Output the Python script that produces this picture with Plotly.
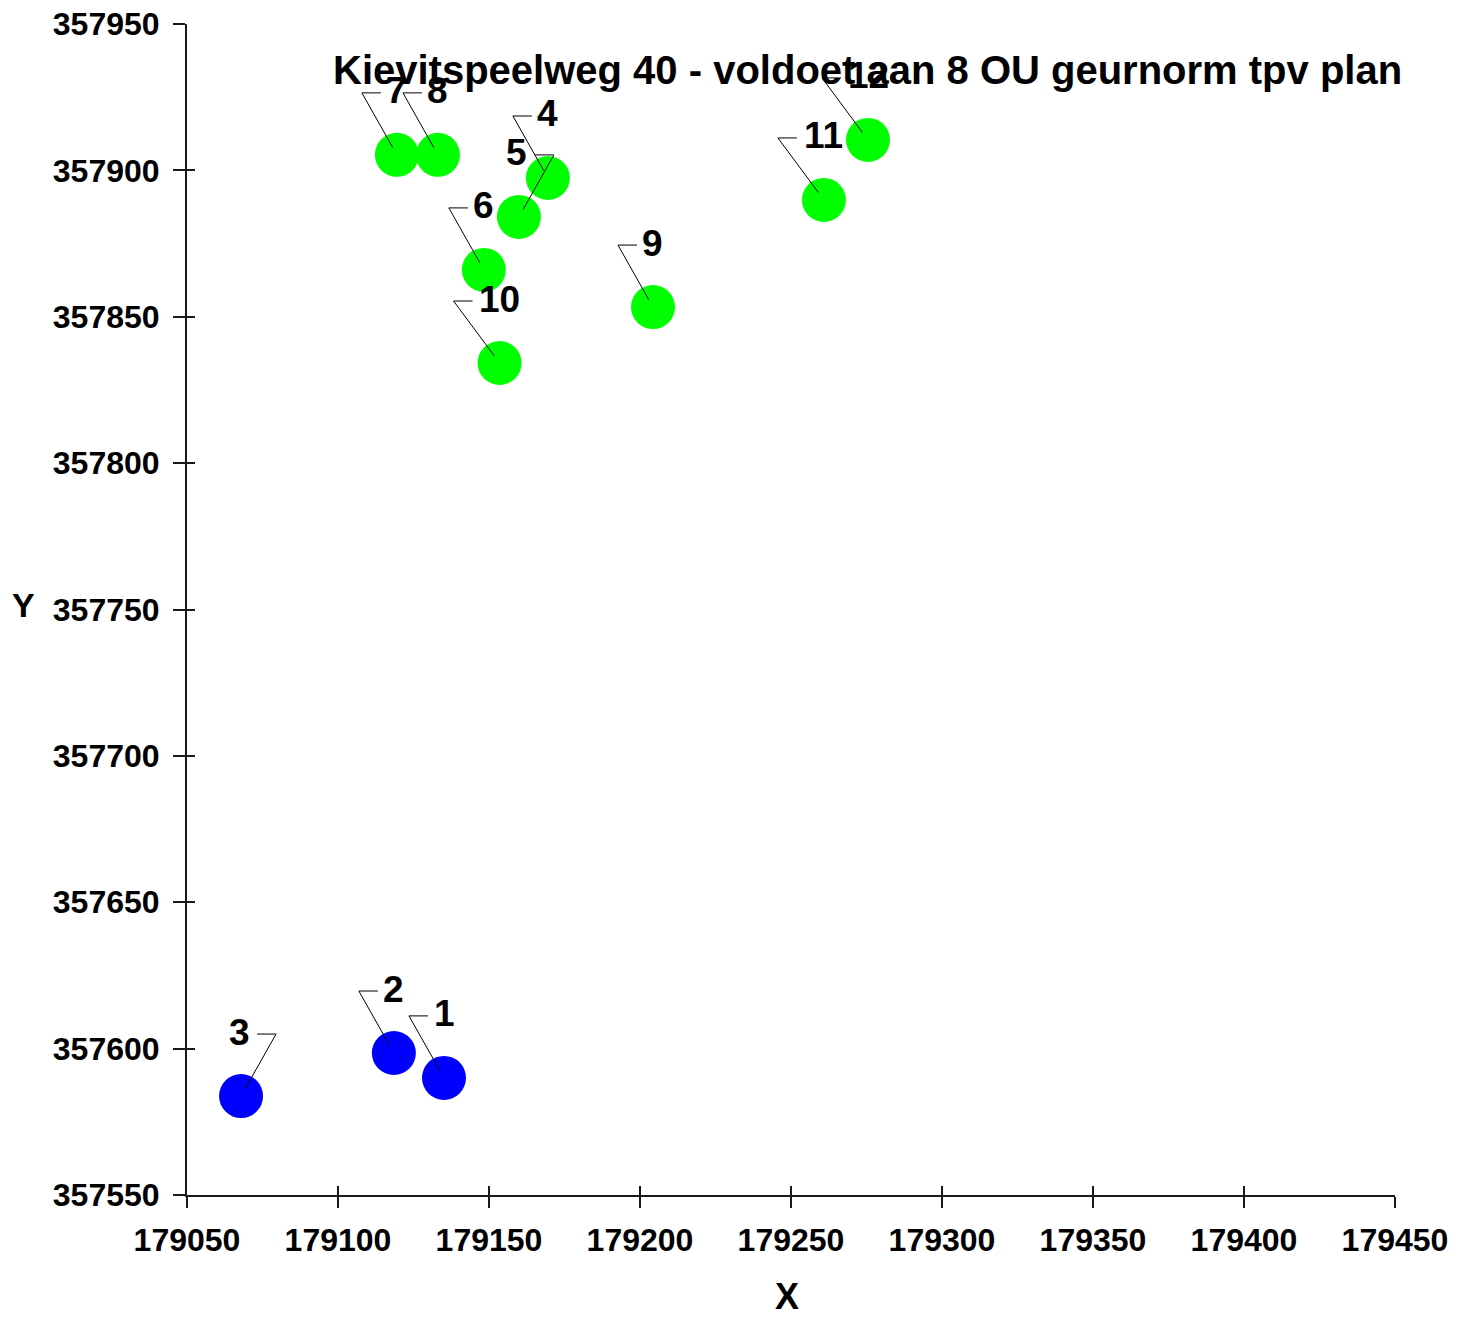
import plotly.graph_objects as go

# ---- data ----
title_text = "Kievitspeelweg 40 - voldoet aan 8 OU geurnorm tpv plan"

blue_labels = ["1", "2", "3"]
blue_x = [179135.1, 179118.5, 179067.9]
blue_y = [357590.0, 357598.5, 357583.8]

green_labels = ["4", "5", "6", "7", "8", "9", "10", "11", "12"]
green_x = [179169.5, 179159.9, 179148.3, 179119.5, 179133.1, 179204.3, 179153.5, 179260.9, 179275.5]
green_y = [357897.4, 357884.1, 357866.0, 357905.3, 357905.3, 357853.3, 357834.2, 357889.9, 357910.4]

x_range = [179050, 179450]
y_range = [357550, 357950]
tick_step = 50

# labels whose leader stub sits on the right side of the text
right_side = {"5", "3"}

FONT = "Liberation Sans, Arial, sans-serif"

# the page body has an 8px margin; size the figure so the plot area lands where wanted
BODY = 8
PLOT_L, PLOT_T, PLOT_R, PLOT_B = 187, 24, 1395, 1195
W, H = 1469 - BODY, 1321 - BODY
PW, PH = PLOT_R - PLOT_L, PLOT_B - PLOT_T


def px_x(sx):
    return (sx - PLOT_L) / PW


def px_y(sy):
    return (PLOT_B - sy) / PH


fig = go.Figure()

fig.add_trace(go.Scatter(
    x=blue_x, y=blue_y, mode="markers", name="overschrijding",
    marker=dict(size=44, color="#0000FF", line=dict(width=0)),
    cliponaxis=False, showlegend=False, hoverinfo="text", text=blue_labels,
))
fig.add_trace(go.Scatter(
    x=green_x, y=green_y, mode="markers", name="voldoet",
    marker=dict(size=44, color="#00FF00", line=dict(width=0)),
    cliponaxis=False, showlegend=False, hoverinfo="text", text=green_labels,
))
# invisible trace to activate the overlay axes (inside half of crossing ticks)
fig.add_trace(go.Scatter(
    x=[blue_x[0]], y=[blue_y[0]], xaxis="x2", yaxis="y2", mode="markers",
    marker=dict(opacity=0), showlegend=False, hoverinfo="skip",
))

shapes = []
annotations = []
all_pts = list(zip(blue_labels, blue_x, blue_y)) + list(zip(green_labels, green_x, green_y))
for lab, px, py in all_pts:
    side = 1 if lab in right_side else -1
    halfw = 9 if len(lab) == 1 else 20
    up = 62
    near = side * (halfw + 7)
    far = side * (halfw + 26)
    ex, ey = far * 0.12, up * 0.12
    path = f"M {far},{up} L {near},{up} M {far},{up} L {ex:.1f},{ey:.1f}"
    shapes.append(dict(
        type="path", xref="x", yref="y", xsizemode="pixel", ysizemode="pixel",
        xanchor=px, yanchor=py, path=path,
        line=dict(color="black", width=1), layer="above",
    ))
    annotations.append(dict(
        x=px, y=py, xref="x", yref="y", text=f"<b>{lab}</b>", showarrow=False,
        xshift=(-2 if side == 1 else 0), yshift=up + 2, xanchor="center", yanchor="middle",
        font=dict(family=FONT, size=37, color="black"),
    ))

# chart title
annotations.append(dict(
    x=px_x(867), y=px_y(70), xref="paper", yref="paper",
    text=f"<b>{title_text}</b>", showarrow=False, xanchor="center", yanchor="middle",
    font=dict(family=FONT, size=40, color="black"),
))
# axis titles
annotations.append(dict(
    x=px_x(23), y=px_y(605), xref="paper", yref="paper",
    text="<b>Y</b>", showarrow=False, xanchor="center", yanchor="middle",
    font=dict(family=FONT, size=34, color="black"),
))
annotations.append(dict(
    x=px_x(787), y=px_y(1297), xref="paper", yref="paper",
    text="<b>X</b>", showarrow=False, xanchor="center", yanchor="middle",
    font=dict(family=FONT, size=36, color="black"),
))

axis_common = dict(showgrid=False, zeroline=False, tickformat="d", dtick=tick_step, automargin=False)
tickfont = dict(family=FONT, size=32, color="black", weight="bold")
fig.update_layout(
    width=W, height=H,
    margin=dict(l=PLOT_L - BODY, r=(W + BODY) - PLOT_R, t=PLOT_T - BODY, b=(H + BODY) - PLOT_B,
                autoexpand=False),
    paper_bgcolor="white", plot_bgcolor="white",
    showlegend=False,
    font=dict(family=FONT, color="black"),
    xaxis=dict(
        range=x_range, tick0=x_range[0], **axis_common,
        showline=True, linecolor="#1a1a1a", linewidth=2,
        ticks="outside", ticklen=11, tickwidth=2, tickcolor="#1a1a1a",
        tickfont=tickfont, ticklabelstandoff=5, ticklabeloverflow="allow",
    ),
    yaxis=dict(
        range=y_range, tick0=y_range[0], **axis_common,
        showline=True, linecolor="#1a1a1a", linewidth=2,
        ticks="outside", ticklen=12, tickwidth=2, tickcolor="#1a1a1a",
        tickfont=tickfont, ticklabelstandoff=7, ticklabeloverflow="allow",
    ),
    xaxis2=dict(
        overlaying="x", matches="x", side="bottom", range=x_range, tick0=x_range[0],
        **axis_common, showline=False, showticklabels=False,
        ticks="inside", ticklen=9, tickwidth=2, tickcolor="#1a1a1a",
    ),
    yaxis2=dict(
        overlaying="y", matches="y", side="left", range=y_range, tick0=y_range[0],
        **axis_common, showline=False, showticklabels=False,
        ticks="inside", ticklen=8, tickwidth=2, tickcolor="#1a1a1a",
    ),
    shapes=shapes,
    annotations=annotations,
)

fig.write_html("out.html")
